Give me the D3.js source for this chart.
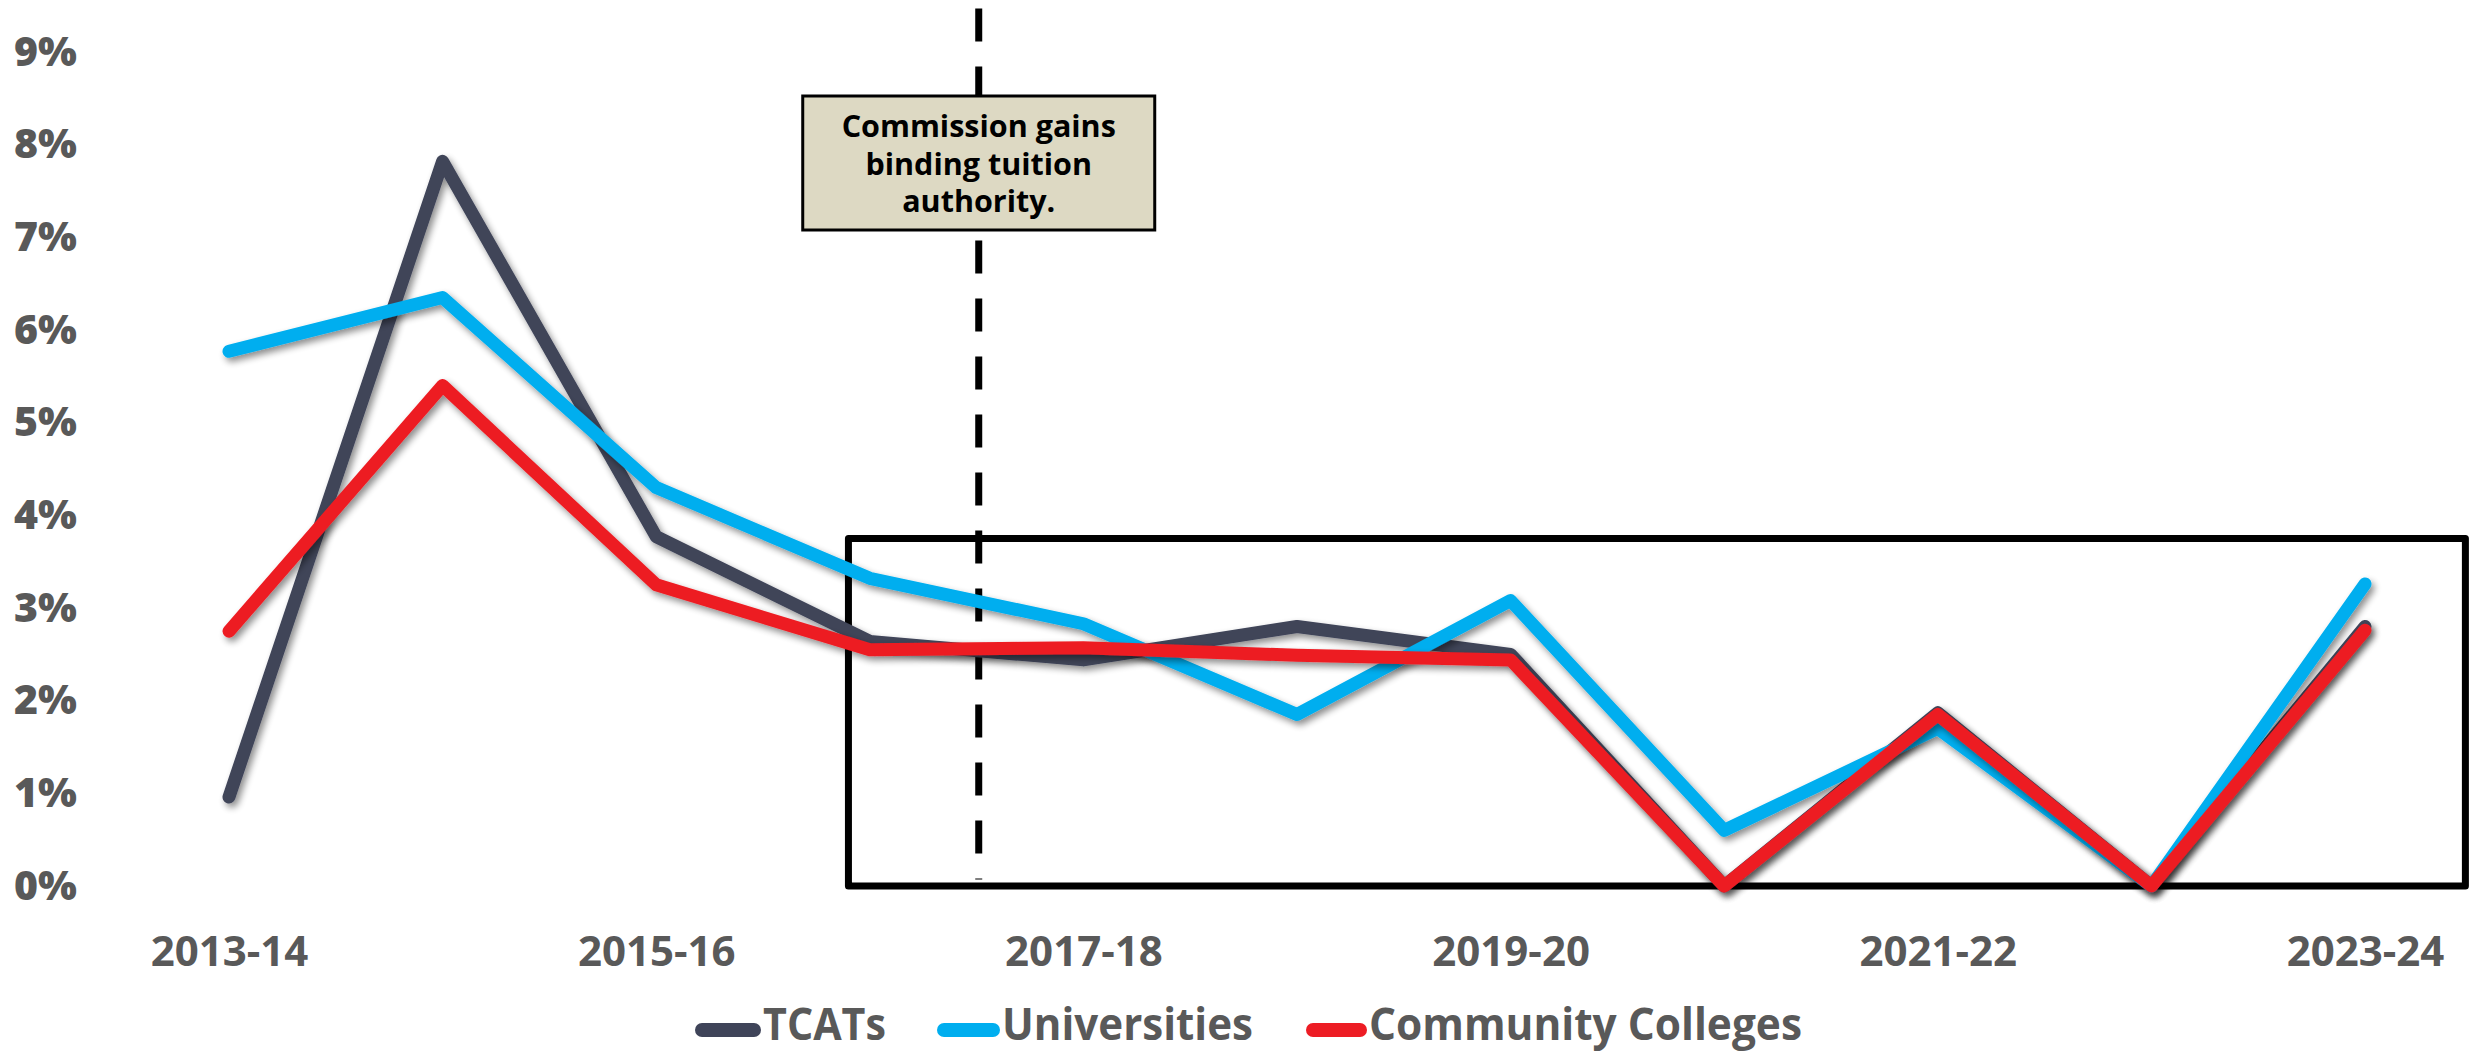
<!DOCTYPE html>
<html>
<head>
<meta charset="utf-8">
<script src="https://cdn.jsdelivr.net/npm/d3@7"></script>
<style>
  html, body { margin: 0; padding: 0; background: #ffffff; }
  svg { display: block; }
</style>
</head>
<body>
<svg id="chart" width="2476" height="1052"></svg>
<script>
// ---- data ----
const categories = ["2013-14","2014-15","2015-16","2016-17","2017-18","2018-19","2019-20","2020-21","2021-22","2022-23","2023-24"];
const labeledCategories = ["2013-14","2015-16","2017-18","2019-20","2021-22","2023-24"];
const tcats        = [0.96, 7.82, 3.77, 2.64, 2.44, 2.80, 2.50, 0.00, 1.87, 0.00, 2.80];
const universities = [5.77, 6.35, 4.30, 3.32, 2.83, 1.85, 3.08, 0.60, 1.70, 0.00, 3.26];
const community    = [2.75, 5.40, 3.25, 2.55, 2.57, 2.49, 2.44, 0.00, 1.85, 0.00, 2.76];
const yTicks = [0,1,2,3,4,5,6,7,8,9];
const seriesNames = ["TCATs","Universities","Community Colleges"];
const seriesColors = ["#3F4459","#00AEEF","#ED1C24"];
const annotationLines = ["Commission gains","binding tuition","authority."];

// ---- scales ----
const svg = d3.select("#chart");
const x = d3.scalePoint().domain(categories).range([229, 2365]);
const xi = d3.scaleLinear().domain([0, categories.length - 1]).range([229, 2365]);
const y = d3.scaleLinear().domain([0, 9]).range([886, 52]);

// ---- defs: drop shadow ----
const defs = svg.append("defs");
const f = defs.append("filter").attr("id","shadow").attr("x","-10%").attr("y","-10%").attr("width","120%").attr("height","130%");
f.append("feGaussianBlur").attr("in","SourceAlpha").attr("stdDeviation",3.5).attr("result","blur");
f.append("feOffset").attr("in","blur").attr("dx",3).attr("dy",4).attr("result","off");
f.append("feComponentTransfer").attr("in","off").attr("result","shadowA")
  .append("feFuncA").attr("type","linear").attr("slope",0.45);
const fm = f.append("feMerge");
fm.append("feMergeNode").attr("in","shadowA");
fm.append("feMergeNode").attr("in","SourceGraphic");

// ---- y axis ----
const yAxis = d3.axisLeft(y).tickValues(yTicks).tickFormat(d => d + "%").tickSize(0).tickPadding(0);
const gy = svg.append("g").attr("transform","translate(77,0)").call(yAxis);
gy.select(".domain").remove();
gy.selectAll("text")
  .attr("fill","#595959")
  .style("font-family","'Open Sans', sans-serif")
  .style("font-weight","800")
  .style("font-size","41px");

// ---- x axis ----
const xAxis = d3.axisBottom(x).tickValues(labeledCategories).tickSize(0).tickPadding(0);
const gx = svg.append("g").attr("transform","translate(0,886)").call(xAxis);
gx.select(".domain").remove();
gx.selectAll("text")
  .attr("y", 65).attr("dy","0.35em")
  .attr("fill","#595959")
  .style("font-family","'Open Sans', sans-serif")
  .style("font-weight","700")
  .style("font-size","42px");

// ---- highlight rectangle ----
svg.append("rect")
  .attr("x", xi(2.9)).attr("y", y(3.75))
  .attr("width", xi(10.47) - xi(2.9)).attr("height", y(0) - y(3.75))
  .attr("fill","none").attr("stroke","#000").attr("stroke-width",7)
  .attr("stroke-linejoin","round");

// ---- dashed event line ----
svg.append("line")
  .attr("x1", xi(3.51)).attr("x2", xi(3.51))
  .attr("y1", y(9.47)).attr("y2", y(0.07))
  .attr("stroke","#000").attr("stroke-width",7)
  .attr("stroke-dasharray","33 25");

// ---- lines ----
const line = d3.line().x((d,i) => x(categories[i])).y(d => y(d));
const allSeries = [tcats, universities, community];
svg.append("g").selectAll("path").data(allSeries).join("path")
  .attr("d", d => line(d))
  .attr("fill","none")
  .attr("stroke", (d,i) => seriesColors[i])
  .attr("stroke-width", 13)
  .attr("stroke-linecap","round")
  .attr("stroke-linejoin","round")
  .attr("filter","url(#shadow)");

// ---- annotation box ----
const ann = svg.append("g");
const boxCx = xi(3.51), boxW = 352, boxTop = 96, boxH = 134;
ann.append("rect")
  .attr("x", boxCx - boxW/2).attr("y", boxTop).attr("width", boxW).attr("height", boxH)
  .attr("fill","#DDD9C3").attr("stroke","#000").attr("stroke-width",3);
ann.selectAll("text").data(annotationLines).join("text")
  .attr("x", boxCx).attr("y", (d,i) => boxTop + 41 + i*37.5)
  .attr("text-anchor","middle")
  .attr("fill","#000")
  .style("font-family","'Open Sans', sans-serif")
  .style("font-weight","700")
  .style("font-size","30.5px")
  .text(d => d);

// ---- legend ----
const legendSwatch = [[695,761],[937,1000],[1306,1367]];
const legendTextW = [123, 251, 433];
const lg = svg.append("g");
seriesNames.forEach((name, i) => {
  lg.append("line")
    .attr("x1", legendSwatch[i][0] + 7).attr("x2", legendSwatch[i][1] - 7)
    .attr("y1", 1030).attr("y2", 1030)
    .attr("stroke", seriesColors[i]).attr("stroke-width", 14)
    .attr("stroke-linecap","round");
  lg.append("text")
    .attr("x", legendSwatch[i][1] + 2).attr("y", 1040)
    .attr("fill","#595959")
    .attr("textLength", legendTextW[i]).attr("lengthAdjust","spacingAndGlyphs")
    .style("font-family","'Open Sans', sans-serif")
    .style("font-weight","700")
    .style("font-size","45px")
    .text(name);
});
</script>
</body>
</html>
